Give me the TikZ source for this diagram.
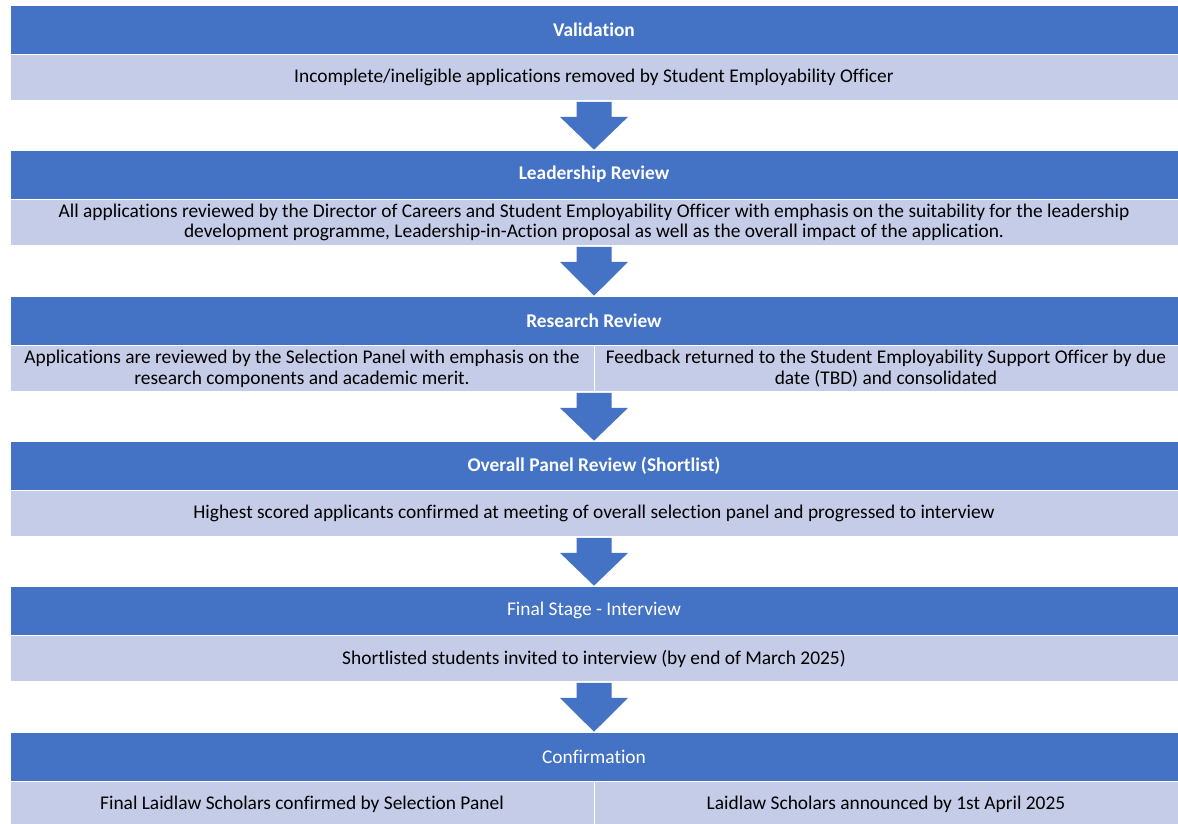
\documentclass[tikz,border=0pt]{standalone}
\usepackage{fontspec}
\setmainfont{Carlito}[Ligatures=NoCommon]
\usetikzlibrary{positioning,calc}
\definecolor{headblue}{RGB}{68,114,196}
\definecolor{bodyblue}{RGB}{196,204,231}
\begin{document}
\begin{tikzpicture}[x=1pt,y=-1pt,
	every node/.style={font=\fontsize{19.4}{20.5}\selectfont,inner sep=0pt,align=center},
	stagehead/.style={fill=headblue,draw=white,line width=0.6pt,text=white,minimum width=1168pt,minimum height=49pt},
	stagebody/.style={fill=bodyblue,draw=white,line width=0.6pt,minimum width=1168pt,minimum height=46pt},
	halfbody/.style={stagebody,minimum width=584pt},
	flowarrow/.style={fill=headblue}]
	\useasboundingbox (0,0) rectangle (1178,824);
	% stages
	\node[stagehead] (h1) at (594,29.5) {\bfseries Validation};
	\node[stagebody,below=0pt of h1] (b1) {Incomplete/ineligible applications removed by Student Employability Officer};
	\node[stagehead] (h2) at (594,174.5) {\bfseries Leadership Review};
	\node[stagebody,below=0pt of h2] (b2) {All applications reviewed by the Director of Careers and Student Employability Officer with emphasis on the suitability for the leadership\\development programme, Leadership-in-Action proposal as well as the overall impact of the application.};
	\node[stagehead] (h3) at (594,320.5) {\bfseries Research Review};
	\node[halfbody,below right=0pt and 0pt of h3.south west] (b3a) {Applications are reviewed by the Selection Panel with emphasis on the\\research components and academic merit.};
	\node[halfbody,below left=0pt and 0pt of h3.south east] (b3b) {Feedback returned to the Student Employability Support Officer by due\\date (TBD) and consolidated};
	\coordinate (b3) at (h3.south |- b3a.south);
	\node[stagehead] (h4) at (594,465.5) {\bfseries Overall Panel Review (Shortlist)};
	\node[stagebody,below=0pt of h4] (b4) {Highest scored applicants confirmed at meeting of overall selection panel and progressed to interview};
	\node[stagehead] (h5) at (594,610.5) {Final Stage - Interview};
	\node[stagebody,below=0pt of h5] (b5) {Shortlisted students invited to interview (by end of March 2025)};
	\node[stagehead] (h6) at (594,756.5) {Confirmation};
	\node[halfbody,below right=0pt and 0pt of h6.south west] (b6a) {Final Laidlaw Scholars confirmed by Selection Panel};
	\node[halfbody,below left=0pt and 0pt of h6.south east] (b6b) {Laidlaw Scholars announced by 1st April 2025};
	% block arrows between stages
	\foreach \a/\b in {b1.south/h2,b2.south/h3,b3/h4,b4.south/h5,b5.south/h6}{
		\fill[flowarrow] ($(\a)+(-17.5,1)$) -- ($(\a)+(17.5,1)$) -- ($(\a)+(17.5,16)$) -- ($(\a)+(34,16)$)
			-- (\b.north) -- ($(\a)+(-34,16)$) -- ($(\a)+(-17.5,16)$) -- cycle;
	}
\end{tikzpicture}
\end{document}
